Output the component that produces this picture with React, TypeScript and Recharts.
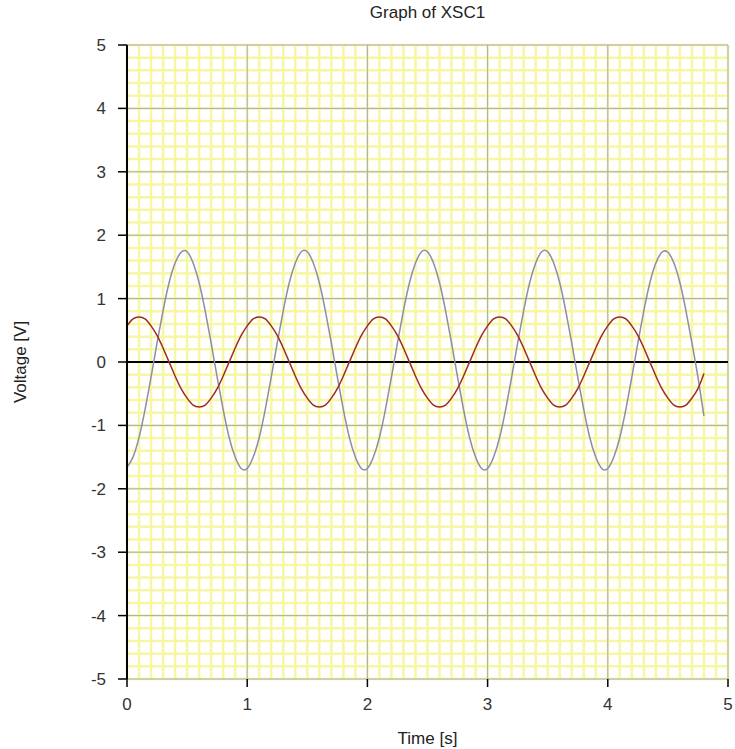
import React from 'react';
import { LineChart, Line, XAxis, YAxis, CartesianGrid, ReferenceLine, Label } from 'recharts';

// time samples [s]
const time = [
    0, 0.05, 0.1, 0.15, 0.2, 0.25, 0.3, 0.35, 0.4, 0.45,
    0.5, 0.55, 0.6, 0.65, 0.7, 0.75, 0.8, 0.85, 0.9, 0.95,
    1, 1.05, 1.1, 1.15, 1.2, 1.25, 1.3, 1.35, 1.4, 1.45,
    1.5, 1.55, 1.6, 1.65, 1.7, 1.75, 1.8, 1.85, 1.9, 1.95,
    2, 2.05, 2.1, 2.15, 2.2, 2.25, 2.3, 2.35, 2.4, 2.45,
    2.5, 2.55, 2.6, 2.65, 2.7, 2.75, 2.8, 2.85, 2.9, 2.95,
    3, 3.05, 3.1, 3.15, 3.2, 3.25, 3.3, 3.35, 3.4, 3.45,
    3.5, 3.55, 3.6, 3.65, 3.7, 3.75, 3.8, 3.85, 3.9, 3.95,
    4, 4.05, 4.1, 4.15, 4.2, 4.25, 4.3, 4.35, 4.4, 4.45,
    4.5, 4.55, 4.6, 4.65, 4.7, 4.75, 4.8,
];

// channel A (grey trace) [V]
const channelA = [
    -1.66, -1.5, -1.19, -0.75, -0.24, 0.3, 0.81, 1.25, 1.56, 1.73,
    1.74, 1.56, 1.25, 0.81, 0.3, -0.24, -0.75, -1.19, -1.5, -1.68,
    -1.68, -1.5, -1.19, -0.75, -0.24, 0.3, 0.81, 1.25, 1.56, 1.74,
    1.74, 1.56, 1.25, 0.81, 0.3, -0.24, -0.75, -1.19, -1.5, -1.68,
    -1.68, -1.5, -1.19, -0.75, -0.24, 0.3, 0.81, 1.25, 1.56, 1.74,
    1.74, 1.56, 1.25, 0.81, 0.3, -0.24, -0.75, -1.19, -1.5, -1.68,
    -1.68, -1.5, -1.19, -0.75, -0.24, 0.3, 0.81, 1.25, 1.56, 1.74,
    1.74, 1.56, 1.25, 0.81, 0.3, -0.24, -0.75, -1.19, -1.5, -1.68,
    -1.68, -1.5, -1.19, -0.75, -0.24, 0.3, 0.81, 1.25, 1.56, 1.73,
    1.73, 1.56, 1.25, 0.81, 0.3, -0.24, -0.85,
];

// channel B (red trace) [V]
const channelB = [
    0.57, 0.68, 0.71, 0.68, 0.57, 0.42, 0.22, 0, -0.22, -0.42,
    -0.57, -0.68, -0.71, -0.68, -0.57, -0.42, -0.22, 0, 0.22, 0.42,
    0.57, 0.68, 0.71, 0.68, 0.57, 0.42, 0.22, 0, -0.22, -0.42,
    -0.57, -0.68, -0.71, -0.68, -0.57, -0.42, -0.22, 0, 0.22, 0.42,
    0.57, 0.68, 0.71, 0.68, 0.57, 0.42, 0.22, 0, -0.22, -0.42,
    -0.57, -0.68, -0.71, -0.68, -0.57, -0.42, -0.22, 0, 0.22, 0.42,
    0.57, 0.68, 0.71, 0.68, 0.57, 0.42, 0.22, 0, -0.22, -0.42,
    -0.57, -0.68, -0.71, -0.68, -0.57, -0.42, -0.22, 0, 0.22, 0.42,
    0.57, 0.68, 0.71, 0.68, 0.57, 0.42, 0.22, 0, -0.22, -0.42,
    -0.57, -0.68, -0.71, -0.68, -0.57, -0.42, -0.18,
];

const xTicks = [0, 1, 2, 3, 4, 5];
const yTicks = [-5, -4, -3, -2, -1, 0, 1, 2, 3, 4, 5];

const data = time.map((t, i) => ({ t, a: channelA[i], b: channelB[i] }));

const font = '"Liberation Sans", Arial, sans-serif';

// fine yellow grid: 10 cells per second, 5 cells per volt
const minorVertical = ({ offset }: any) =>
    Array.from({ length: 51 }, (_, i) => offset.left + (i * offset.width) / 50);
const minorHorizontal = ({ offset }: any) =>
    Array.from({ length: 51 }, (_, i) => offset.top + (i * offset.height) / 50);

export default function App() {
    return (
        <div style={{ position: 'absolute', left: 0, top: 0, width: 735, height: 749, background: '#fff', fontFamily: font }}>
            <div style={{ position: 'absolute', left: 127, width: 601, top: 3, textAlign: 'center', fontSize: 17, color: '#222' }}>
                Graph of XSC1
            </div>
            <LineChart
                width={735}
                height={749}
                data={data}
                margin={{ top: 45, right: 7, bottom: 0, left: 0 }}
            >
                <CartesianGrid
                    verticalCoordinatesGenerator={minorVertical}
                    horizontalCoordinatesGenerator={minorHorizontal}
                    stroke="#f6f6a4"
                    strokeWidth={2.5}
                />
                <CartesianGrid stroke="#a8a8bc" strokeWidth={1} />
                <XAxis
                    dataKey="t"
                    type="number"
                    domain={[0, 5]}
                    ticks={xTicks}
                    height={70}
                    axisLine={false}
                    tickLine={{ stroke: '#000', strokeWidth: 1.5 }}
                    tickSize={8}
                    tickMargin={11}
                    tick={{ fill: '#333', fontSize: 17, fontFamily: font }}
                >
                    <Label value="Time [s]" position="insideBottom" offset={5} fill="#222" fontSize={17} fontFamily={font} />
                </XAxis>
                <YAxis
                    type="number"
                    domain={[-5, 5]}
                    ticks={yTicks}
                    width={127}
                    axisLine={{ stroke: '#000', strokeWidth: 2 }}
                    tickLine={{ stroke: '#000', strokeWidth: 1.5 }}
                    tickSize={9}
                    tickMargin={12}
                    tick={{ fill: '#333', fontSize: 17, fontFamily: font }}
                >
                    <Label
                        content={() => (
                            <text x={22} y={362} transform="rotate(-90 22 362)" textAnchor="middle" dominantBaseline="middle" fill="#222" fontSize={17} fontFamily={font}>
                                Voltage [V]
                            </text>
                        )}
                    />
                </YAxis>
                <ReferenceLine y={0} stroke="#000" strokeWidth={2} />
                <Line type="natural" dataKey="a" stroke="#8c8cae" strokeWidth={1.5} dot={false} isAnimationActive={false} />
                <Line type="natural" dataKey="b" stroke="#9e2c26" strokeWidth={1.5} dot={false} isAnimationActive={false} />
            </LineChart>
        </div>
    );
}
